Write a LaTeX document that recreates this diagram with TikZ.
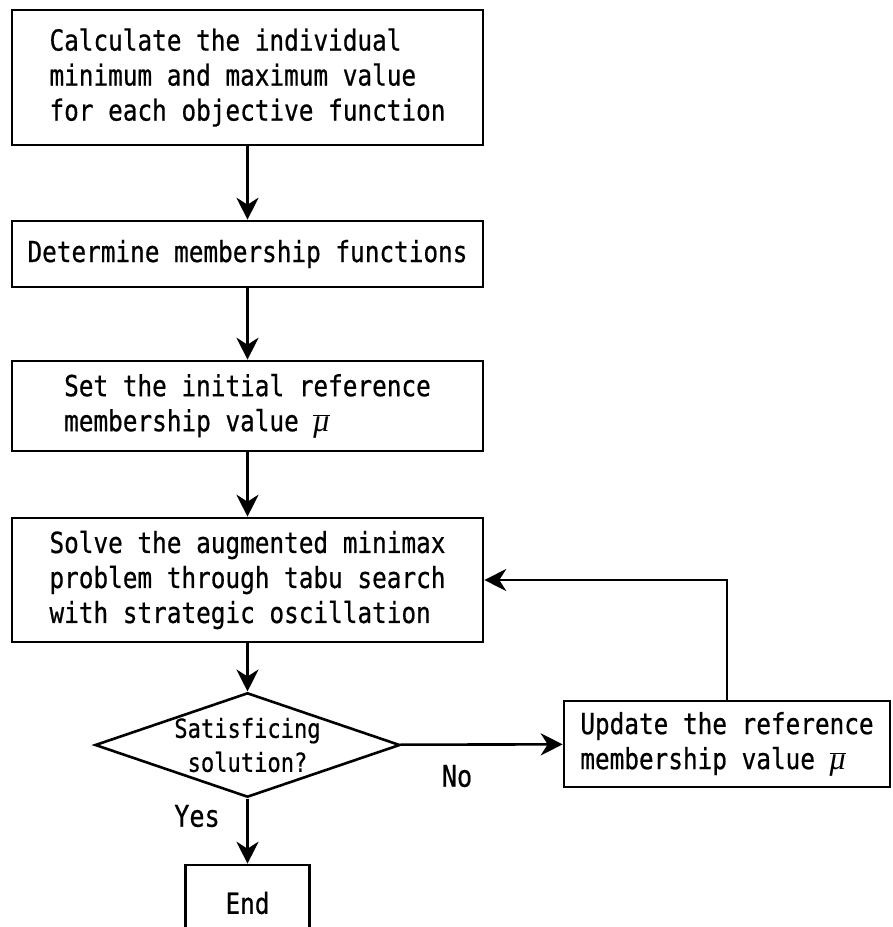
\documentclass[tikz,border=0pt]{standalone}
\usepackage{fontspec}
\newfontfamily\gothic[FakeStretch=0.84,FakeBold=0.6]{DejaVu Sans Mono}
\newfontfamily\muserif{Liberation Serif}
\newcommand{\mubar}{$\overline{\mbox{\muserif\itshape\fontsize{32}{35}\selectfont μ}}$}
\usetikzlibrary{arrows.meta,shapes.geometric}

\begin{document}
\begin{tikzpicture}[x=1pt,y=-1pt,line width=2.6pt,
    >={Stealth[length=22pt,width=22pt,inset=7pt]},
    procbox/.style={draw,line width=2.6pt,minimum width=471pt,inner sep=0pt,
      align=left,font=\gothic\fontsize{29}{35}\selectfont},
    decbox/.style={draw,diamond,line width=2.6pt,inner sep=0pt,aspect=2.92,
      minimum width=298pt,minimum height=102pt,align=center,
      font=\gothic\fontsize{26.3}{34}\selectfont},
    lbl/.style={font=\gothic\fontsize{30}{35}\selectfont,inner sep=0pt}]
  \useasboundingbox (0,0) rectangle (893,927);
  \clip (0,0) rectangle (893,927);
  \node[procbox,minimum height=135pt] (calc) at (247.5,77.5)
    {Calculate the individual\\minimum and maximum value\\for each objective function};
  \node[procbox,minimum height=66pt] (memb) at (247.5,254)
    {Determine membership functions};
  \node[procbox,minimum height=90pt] (init) at (247.5,406)
    {Set the initial reference\\membership value \mubar};
  \node[procbox,minimum height=124pt] (solve) at (247.5,580)
    {Solve the augmented minimax\\problem through tabu search\\with strategic oscillation};
  \node[decbox] (sat) at (247.5,745) {Satisficing\\solution?};
  \node[procbox,minimum width=326pt,minimum height=86pt] (upd) at (727,744)
    {Update the reference\\membership value \mubar};
  \node[procbox,minimum width=124pt,minimum height=76pt,align=center] (fin) at (247.5,903) {End};
  \node[lbl] (no) at (457,776) {No};
  \node[lbl] (yes) at (197,816) {Yes};
  \draw[->] (calc) -- (memb);
  \draw[->] (memb) -- (init);
  \draw[->] (init) -- (solve);
  \draw[->] (solve) -- (sat);
  \draw[->] (sat) -- (upd);
  \draw[->] (sat) -- (fin);
  \draw[->] (upd.north) |- (solve.east);
\end{tikzpicture}
\end{document}
